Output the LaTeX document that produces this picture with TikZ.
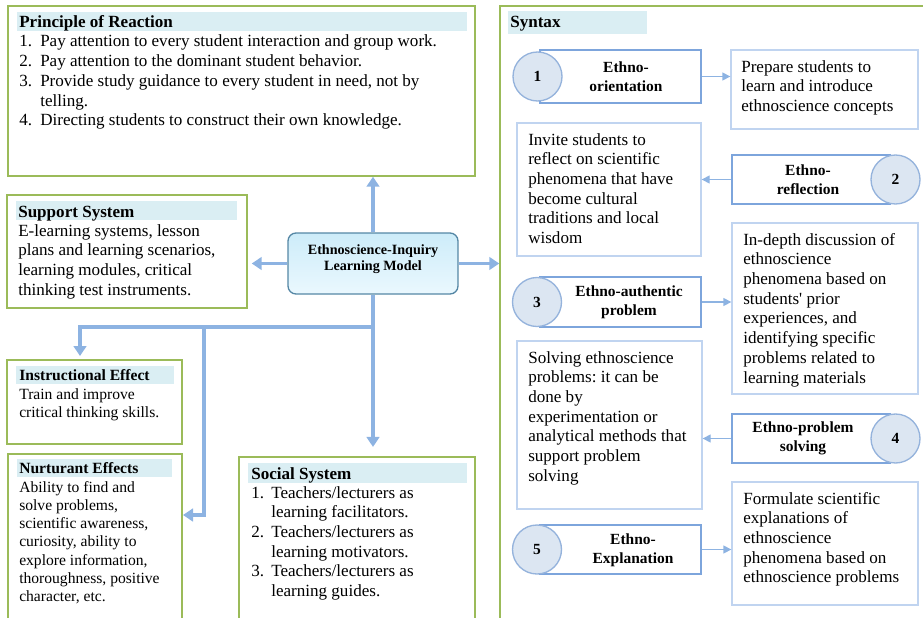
\documentclass[tikz,border=0pt]{standalone}
\usepackage{fontspec}
\setmainfont{Liberation Serif}
\usetikzlibrary{arrows.meta}
\usetikzlibrary{fit}
\frenchspacing

\definecolor{boxgreen}{RGB}{155,187,89}
\definecolor{headfill}{RGB}{218,238,243}
\definecolor{arrowblue}{RGB}{141,179,226}
\definecolor{stepblue}{RGB}{125,165,220}
\definecolor{descblue}{RGB}{192,212,240}
\definecolor{circfill}{RGB}{220,230,242}
\definecolor{circdraw}{RGB}{149,179,220}
\definecolor{modeldraw}{RGB}{85,135,165}
\definecolor{modeltop}{RGB}{205,236,249}
\definecolor{modelbot}{RGB}{234,248,254}

\newcommand\bodyfont{\fontsize{12.8}{14.8}\selectfont}
\newcommand\smallbody{\fontsize{11.7}{13.7}\selectfont}
\newcommand\stepfont{\fontsize{11.6}{14.2}\selectfont}

\begin{document}
\begin{tikzpicture}[x=0.75pt,y=-0.75pt,
  box/.style={draw=boxgreen,line width=1.1pt,inner sep=0pt,fit={#1}},
  band/.style={fill=headfill,inner sep=0pt,fit={#1}},
  head/.style={anchor=base west,inner sep=0pt,font=\bfseries\bodyfont},
  txt/.style={anchor=base west,inner sep=0pt,font=\bodyfont},
  arr/.style={draw=arrowblue,line width=2.3pt,-{Triangle[length=7.5pt,width=9.5pt]}},
  steparr/.style={draw=arrowblue,line width=1pt,-{Triangle[length=6pt,width=6pt]}},
  stepbox/.style={draw=stepblue,fill=white,line width=1.1pt,inner sep=0pt,fit={#1}},
  descbox/.style={draw=descblue,line width=1pt,inner sep=0pt,fit={#1}},
  num/.style={circle,draw=circdraw,fill=circfill,line width=1pt,minimum size=36.75pt,inner sep=0pt,font=\bfseries\stepfont},
  steplabel/.style={align=center,inner sep=0pt,font=\bfseries\stepfont}]
      \clip (0,0) rectangle (923,617);

      \node [box={(8,6) (475,176)}] (reaction){};
      \node [band={(17,12) (467,31)}] (reactionhead){};
      \node [head] at (19,28) {Principle of Reaction};
      \node [txt] (reactiontext) at (19,47) {\begin{tabular}[t]{@{}p{15.75pt}@{}l@{}}
        1.&Pay attention to every student interaction and group work.\\
        2.&Pay attention to the dominant student behavior.\\
        3.&Provide study guidance to every student in need, not by\\
        &telling.\\
        4.&Directing students to construct their own knowledge.
      \end{tabular}};

      \node [box={(7,195) (247,308)}] (support){};
      \node [band={(16,201) (237,220)}] (supporthead){};
      \node [head] at (18,217) {Support System};
      \node [txt] (supporttext) at (18,236) {\begin{tabular}[t]{@{}l@{}}
        E-learning systems, lesson\\
        plans and learning scenarios,\\
        learning modules, critical\\
        thinking test instruments.
      \end{tabular}};

      \node [box={(7,360) (182,444)}] (instr){};
      \node [band={(16,366) (174,384)}] (instrhead){};
      \node [head,font=\bfseries\smallbody] at (19,380) {Instructional Effect};
      \node [txt,font=\smallbody] (instrtext) at (19,399) {\begin{tabular}[t]{@{}l@{}}
        Train and improve\\
        critical thinking skills.
      \end{tabular}};

      \node [box={(8,454) (182,640)}] (nurt){};
      \node [band={(17,459) (172,477)}] (nurthead){};
      \node [head,font=\bfseries\smallbody] at (19,473) {Nurturant Effects};
      \node [txt,font=\smallbody] (nurttext) at (19,492) {\begin{tabular}[t]{@{}l@{}}
        Ability to find and\\
        solve problems,\\
        scientific awareness,\\
        curiosity, ability to\\
        explore information,\\
        thoroughness, positive\\
        character, etc.
      \end{tabular}};

      \node [box={(239,457) (475,640)}] (social){};
      \node [band={(248,463) (467,483)}] (socialhead){};
      \node [head] at (251,479) {Social System};
      \node [txt] (socialtext) at (251,498) {\begin{tabular}[t]{@{}p{15pt}@{}l@{}}
        1.&Teachers/lecturers as\\
        &learning facilitators.\\
        2.&Teachers/lecturers as\\
        &learning motivators.\\
        3.&Teachers/lecturers as\\
        &learning guides.
      \end{tabular}};

      \node [draw=modeldraw,line width=1pt,rounded corners=6pt,top color=modeltop,bottom color=modelbot,
        inner sep=0pt,fit={(288,233) (458,294)}] (model){};
      \node [align=center,font=\bfseries\fontsize{10.6}{12.5}\selectfont] at (373,259) {Ethnoscience-Inquiry\\Learning Model};

      \node [box={(500,6) (940,640)}] (syntax){};
      \node [band={(508,11) (647,34)}] (syntaxhead){};
      \node [head] at (510,28) {Syntax};

      \node [stepbox={(540,50) (701,103)}] (e1){};
      \node [stepbox={(732,155) (890,204)}] (e2){};
      \node [stepbox={(540,277) (701,327)}] (e3){};
      \node [stepbox={(732,414) (890,463)}] (e4){};
      \node [stepbox={(540,525) (701,574)}] (e5){};

      \node [num] (s1) at (537.5,76.5) {1};
      \node [num] (s2) at (895.5,179.5) {2};
      \node [num] (s3) at (537,302) {3};
      \node [num] (s4) at (895.5,438.5) {4};
      \node [num] (s5) at (537,549.5) {5};

      \node [steplabel] at (626,77) {Ethno-\\orientation};
      \node [steplabel] at (808,180) {Ethno-\\reflection};
      \node [steplabel] at (629,302) {Ethno-authentic\\problem};
      \node [steplabel] at (803,438) {Ethno-problem\\solving};
      \node [steplabel] at (633,550) {Ethno-\\Explanation};

      \node [descbox={(731,50) (918,129)}] (d1){};
      \node [descbox={(517,123) (701,256)}] (d2){};
      \node [descbox={(732,223) (918,394)}] (d3){};
      \node [descbox={(517,341) (702,509)}] (d4){};
      \node [descbox={(732,482) (918,605)}] (d5){};

      \node [txt] at (741,72) {\begin{tabular}[t]{@{}l@{}}
        Prepare students to\\
        learn and introduce\\
        ethnoscience concepts
      \end{tabular}};
      \node [txt] at (528,145) {\begin{tabular}[t]{@{}l@{}}
        Invite students to\\
        reflect on scientific\\
        phenomena that have\\
        become cultural\\
        traditions and local\\
        wisdom
      \end{tabular}};
      \node [txt] at (743,245) {\begin{tabular}[t]{@{}l@{}}
        In-depth discussion of\\
        ethnoscience\\
        phenomena based on\\
        students\textquotesingle{} prior\\
        experiences, and\\
        identifying specific\\
        problems related to\\
        learning materials
      \end{tabular}};
      \node [txt] at (528,363) {\begin{tabular}[t]{@{}l@{}}
        Solving ethnoscience\\
        problems: it can be\\
        done by\\
        experimentation or\\
        analytical methods that\\
        support problem\\
        solving
      \end{tabular}};
      \node [txt] at (743,504) {\begin{tabular}[t]{@{}l@{}}
        Formulate scientific\\
        explanations of\\
        ethnoscience\\
        phenomena based on\\
        ethnoscience problems
      \end{tabular}};

      \coordinate (fork) at (204,327);
      \coordinate (instrtop) at (80,356);
      \coordinate (nurtside) at (183,515);

      \draw [arr] (model.north) -- (model.north |- reaction.south);
      \draw [arr,shorten >=3pt] (model.west) -- (support.east |- model.west);
      \draw [arr] (model.east) -- (syntax.west |- model.east);
      \draw [arr,shorten >=7pt] (model.south) -- (model.south |- social.north);
      \draw [arr] (model.south) |- (instrtop |- fork) -- (instrtop);
      \draw [arr] (fork) |- (nurtside);

      \draw [steparr] (e1.east) -- (d1.west |- e1.east);
      \draw [steparr] (e2.west) -- (d2.east |- e2.west);
      \draw [steparr] (e3.east) -- (d3.west |- e3.east);
      \draw [steparr] (e4.west) -- (d4.east |- e4.west);
      \draw [steparr] (e5.east) -- (d5.west |- e5.east);

  \end{tikzpicture}
\end{document}
